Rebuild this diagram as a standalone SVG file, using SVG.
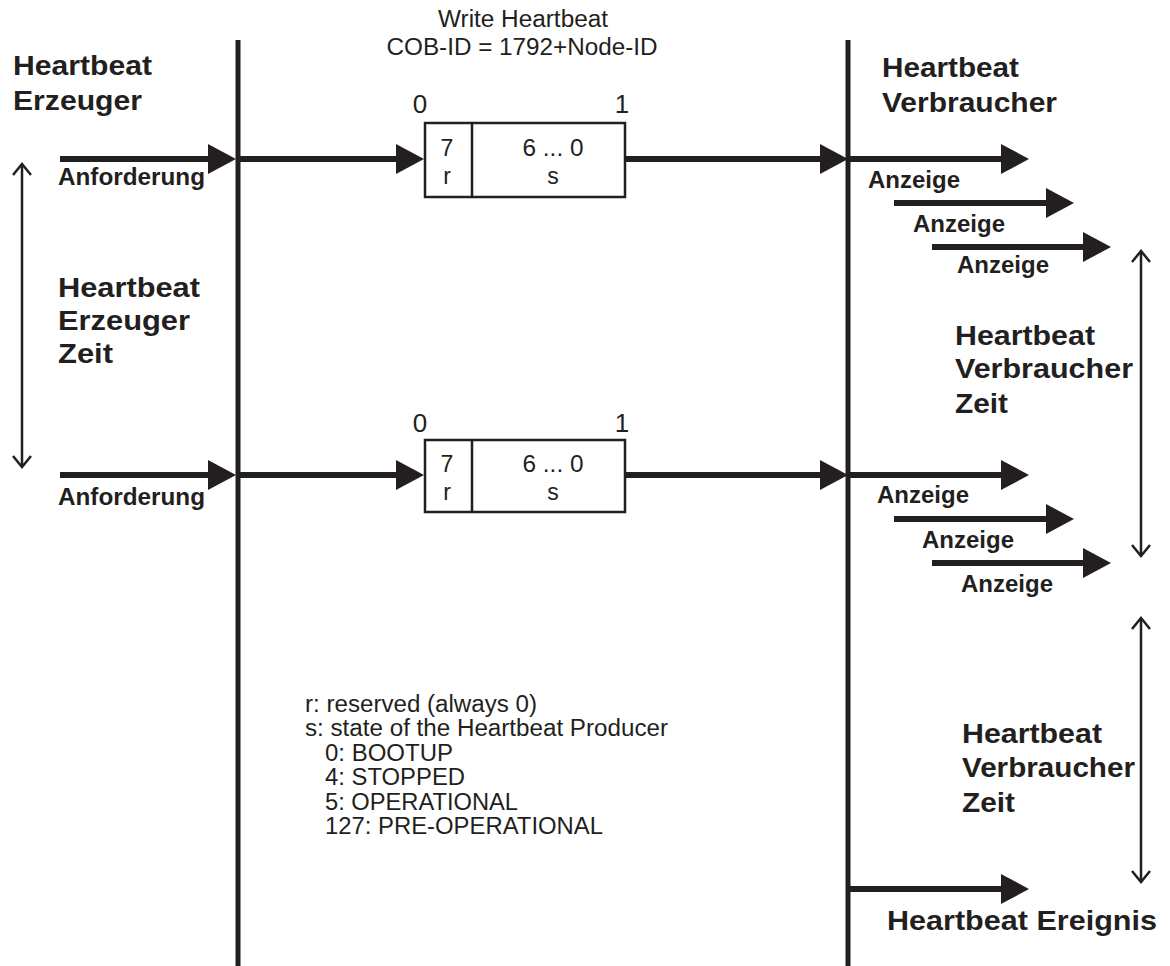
<svg xmlns="http://www.w3.org/2000/svg" width="1170" height="966" viewBox="0 0 1170 966">
<style>
.b{font-family:"Liberation Sans",Arial,sans-serif;font-weight:bold;fill:#231f20}
.n{font-family:"Liberation Sans",Arial,sans-serif;fill:#231f20}
.h{font-size:28px}
.s{font-size:23px}
.lg{font-size:23px}
.bx{font-size:23px}
.shaft{stroke:#231f20;stroke-width:6;fill:none;marker-end:url(#head)}
.thin{stroke:#231f20;stroke-width:2.5;fill:none;marker-start:url(#chev);marker-end:url(#chev)}
.life{stroke:#231f20;stroke-width:5}
.box{fill:#fff;stroke:#231f20;stroke-width:2.5}
</style>
<defs>
<marker id="head" markerUnits="userSpaceOnUse" markerWidth="30" markerHeight="32" refX="0" refY="15" orient="auto" overflow="visible">
<path d="M0,0 L28,15 L0,30 z" fill="#231f20"/>
</marker>
<marker id="chev" markerUnits="userSpaceOnUse" markerWidth="24" markerHeight="24" refX="12" refY="12" orient="auto-start-reverse" overflow="visible">
<path d="M1,3 L12,12 L1,21" fill="none" stroke="#231f20" stroke-width="2.5"/>
</marker>
</defs>
<rect width="1170" height="966" fill="#fff"/>

<g id="lifelines">
<line class="life" x1="238" y1="40" x2="238" y2="966"/>
<line class="life" x1="848" y1="40" x2="848" y2="966"/>
</g>

<g id="connectors">
<line class="shaft" x1="60" y1="159" x2="208" y2="159"/>
<line class="shaft" x1="238" y1="159" x2="396" y2="159"/>
<line class="shaft" x1="625" y1="159" x2="820" y2="159"/>
<line class="shaft" x1="848" y1="159" x2="1001" y2="159"/>
<line class="shaft" x1="894" y1="203" x2="1046" y2="203"/>
<line class="shaft" x1="932" y1="247" x2="1083" y2="247"/>

<line class="shaft" x1="60" y1="475" x2="208" y2="475"/>
<line class="shaft" x1="238" y1="475" x2="396" y2="475"/>
<line class="shaft" x1="625" y1="475" x2="820" y2="475"/>
<line class="shaft" x1="848" y1="475" x2="1001" y2="475"/>
<line class="shaft" x1="894" y1="519" x2="1046" y2="519"/>
<line class="shaft" x1="932" y1="563" x2="1083" y2="563"/>

<line class="shaft" x1="848" y1="889" x2="1001" y2="889"/>

<line class="thin" x1="22" y1="164" x2="22" y2="467"/>
<line class="thin" x1="1141" y1="251" x2="1141" y2="556"/>
<line class="thin" x1="1141" y1="618" x2="1141" y2="882"/>
</g>

<g id="title">
<text class="n" x="523" y="27" font-size="23" text-anchor="middle" textLength="170" lengthAdjust="spacingAndGlyphs">Write Heartbeat</text>
<text class="n" x="522" y="55" font-size="23" text-anchor="middle" textLength="271" lengthAdjust="spacingAndGlyphs">COB-ID = 1792+Node-ID</text>
</g>

<g id="producer">
<text class="b h" x="13" y="75" textLength="139" lengthAdjust="spacingAndGlyphs">Heartbeat</text>
<text class="b h" x="13" y="110" textLength="129" lengthAdjust="spacingAndGlyphs">Erzeuger</text>
</g>

<g id="consumer">
<text class="b h" x="882" y="77" textLength="137" lengthAdjust="spacingAndGlyphs">Heartbeat</text>
<text class="b h" x="882" y="112" textLength="175" lengthAdjust="spacingAndGlyphs">Verbraucher</text>
</g>

<g id="producer-time">
<text class="b h" x="58" y="297" textLength="142" lengthAdjust="spacingAndGlyphs">Heartbeat</text>
<text class="b h" x="58" y="330" textLength="132" lengthAdjust="spacingAndGlyphs">Erzeuger</text>
<text class="b h" x="58" y="363" textLength="55" lengthAdjust="spacingAndGlyphs">Zeit</text>
</g>

<g id="consumer-time-1">
<text class="b h" x="955" y="345" textLength="140" lengthAdjust="spacingAndGlyphs">Heartbeat</text>
<text class="b h" x="955" y="378" textLength="178" lengthAdjust="spacingAndGlyphs">Verbraucher</text>
<text class="b h" x="955" y="413" textLength="53" lengthAdjust="spacingAndGlyphs">Zeit</text>
</g>

<g id="consumer-time-2">
<text class="b h" x="962" y="743" textLength="140" lengthAdjust="spacingAndGlyphs">Heartbeat</text>
<text class="b h" x="962" y="777" textLength="173" lengthAdjust="spacingAndGlyphs">Verbraucher</text>
<text class="b h" x="962" y="812" textLength="53" lengthAdjust="spacingAndGlyphs">Zeit</text>
</g>

<g id="event">
<text class="b h" x="887" y="930" textLength="270" lengthAdjust="spacingAndGlyphs">Heartbeat Ereignis</text>
</g>

<g id="request-1">
<text class="b s" x="58" y="185" textLength="147" lengthAdjust="spacingAndGlyphs">Anforderung</text>
</g>
<g id="request-2">
<text class="b s" x="58" y="505" textLength="147" lengthAdjust="spacingAndGlyphs">Anforderung</text>
</g>

<g id="indications-1">
<text class="b s" x="868" y="188" textLength="92" lengthAdjust="spacingAndGlyphs">Anzeige</text>
<text class="b s" x="913" y="232" textLength="92" lengthAdjust="spacingAndGlyphs">Anzeige</text>
<text class="b s" x="957" y="273" textLength="92" lengthAdjust="spacingAndGlyphs">Anzeige</text>
</g>
<g id="indications-2">
<text class="b s" x="877" y="503" textLength="92" lengthAdjust="spacingAndGlyphs">Anzeige</text>
<text class="b s" x="922" y="548" textLength="92" lengthAdjust="spacingAndGlyphs">Anzeige</text>
<text class="b s" x="961" y="592" textLength="92" lengthAdjust="spacingAndGlyphs">Anzeige</text>
</g>

<g id="message-1">
<text class="n" x="420" y="113" font-size="26" text-anchor="middle">0</text>
<text class="n" x="622" y="113" font-size="26" text-anchor="middle">1</text>
<rect class="box" x="425" y="123" width="200" height="74"/>
<line class="box" x1="472" y1="123" x2="472" y2="197"/>
<text class="n bx" x="447" y="156" text-anchor="middle">7</text>
<text class="n bx" x="447" y="184" text-anchor="middle">r</text>
<text class="n bx" x="553" y="156" text-anchor="middle" textLength="61" lengthAdjust="spacingAndGlyphs">6 ... 0</text>
<text class="n bx" x="553" y="184" text-anchor="middle">s</text>
</g>

<g id="message-2">
<text class="n" x="420" y="432" font-size="26" text-anchor="middle">0</text>
<text class="n" x="622" y="432" font-size="26" text-anchor="middle">1</text>
<rect class="box" x="425" y="440" width="200" height="72"/>
<line class="box" x1="472" y1="440" x2="472" y2="512"/>
<text class="n bx" x="447" y="472" text-anchor="middle">7</text>
<text class="n bx" x="447" y="500" text-anchor="middle">r</text>
<text class="n bx" x="553" y="472" text-anchor="middle" textLength="61" lengthAdjust="spacingAndGlyphs">6 ... 0</text>
<text class="n bx" x="553" y="500" text-anchor="middle">s</text>
</g>

<g id="legend">
<text class="n lg" x="305" y="712" textLength="232" lengthAdjust="spacingAndGlyphs">r: reserved (always 0)</text>
<text class="n lg" x="305" y="736" textLength="363" lengthAdjust="spacingAndGlyphs">s: state of the Heartbeat Producer</text>
<text class="n lg" x="325" y="761" textLength="128" lengthAdjust="spacingAndGlyphs">0: BOOTUP</text>
<text class="n lg" x="325" y="785" textLength="140" lengthAdjust="spacingAndGlyphs">4: STOPPED</text>
<text class="n lg" x="325" y="810" textLength="193" lengthAdjust="spacingAndGlyphs">5: OPERATIONAL</text>
<text class="n lg" x="325" y="834" textLength="278" lengthAdjust="spacingAndGlyphs">127: PRE-OPERATIONAL</text>
</g>
</svg>
